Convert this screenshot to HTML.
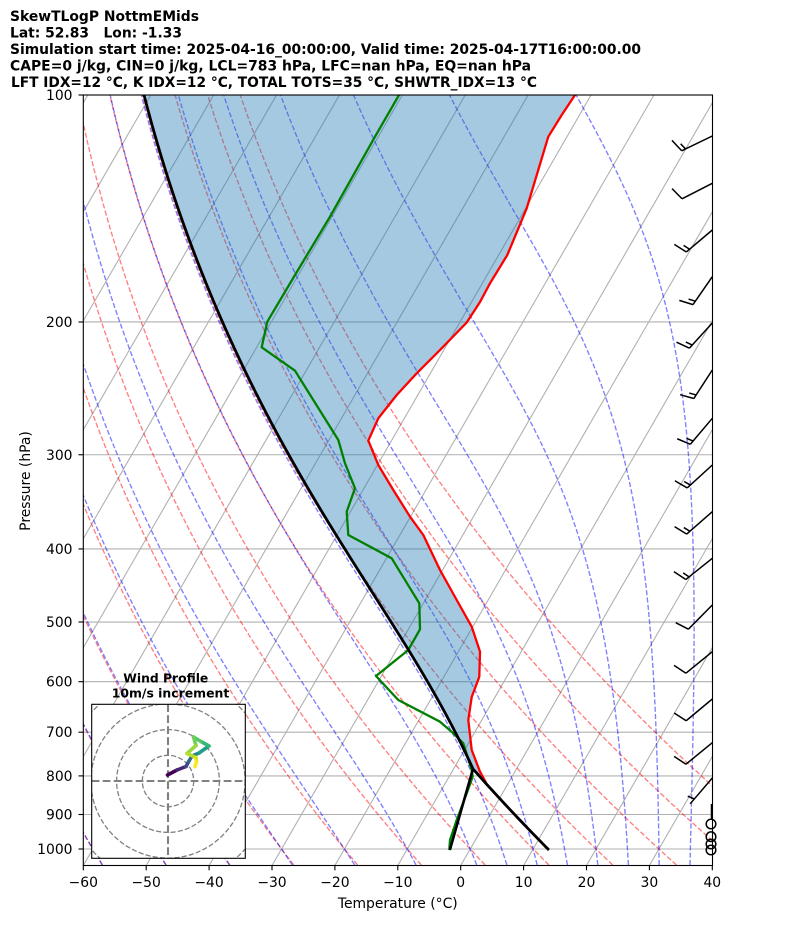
<!DOCTYPE html>
<html><head><meta charset="utf-8">
<style>
html,body{margin:0;padding:0;background:#fff;}
svg{display:block;}
text{font-family:"DejaVu Sans","Liberation Sans",sans-serif;fill:#000;}
.t{font-weight:bold;font-size:13.9px;white-space:pre;}
.tk{font-size:13.9px;}
</style></head>
<body>
<svg id="s" width="794" height="937" viewBox="0 0 794 937" xmlns="http://www.w3.org/2000/svg">
<defs>
<clipPath id="c"><rect x="83.3" y="95" width="629.2" height="770.5"/></clipPath>
<clipPath id="hc"><rect x="91.7" y="704.3" width="153.6" height="154"/></clipPath>
</defs>
<rect x="0" y="0" width="794" height="937" fill="#fff"/>
<g clip-path="url(#c)">
  <g id="grid"></g>
  <g id="dry"></g>
  <g id="moist"></g>
  <g id="fillg"></g>
  <g id="prof"></g>
</g>
<g id="barbs"></g>
<g fill="none" stroke="#000" stroke-width="1.5">
  <line x1="711.5" y1="804" x2="711.5" y2="820"/>
  <circle cx="711" cy="824" r="4.8"/>
  <circle cx="711" cy="836.7" r="4.8"/>
  <circle cx="711" cy="844" r="4.8"/>
  <circle cx="711" cy="850" r="4.8"/>
</g>

<!-- hodograph inset -->
<rect x="91.7" y="704.3" width="153.6" height="154" fill="#fff"/>
<g clip-path="url(#hc)">
  <g fill="none" stroke="#808080" stroke-width="1.3" stroke-dasharray="5.1 2.2">
    <circle cx="168" cy="781" r="25.7"/>
    <circle cx="168" cy="781" r="51.4"/>
    <circle cx="168" cy="781" r="77.1"/>
    <circle cx="168" cy="781" r="102.8"/>
  </g>
  <g stroke="#808080" stroke-width="2.1" stroke-dasharray="7.7 3.3">
    <line x1="91.7" y1="781" x2="245.3" y2="781"/>
    <line x1="168" y1="704.3" x2="168" y2="858.3"/>
  </g>
  <g fill="none" stroke-width="3.6" stroke-linecap="round" stroke-linejoin="round">
    <polyline points="167.5,775 177,770" stroke="#440154"/>
    <polyline points="177,770 186,766.5" stroke="#482475"/>
    <polyline points="186,766.5 189,761" stroke="#3e4a89"/>
    <polyline points="189,761 192,756" stroke="#31688e"/>
    <polyline points="192,756 199,753" stroke="#26828e"/>
    <polyline points="199,753 209,746" stroke="#1f9e89"/>
    <polyline points="209,746 201,741.5" stroke="#35b779"/>
    <polyline points="201,741.5 193.5,737" stroke="#54c568"/>
    <polyline points="193.5,737 196,745.5" stroke="#6ece58"/>
    <polyline points="196,745.5 187,753.5" stroke="#95d840"/>
    <polyline points="187,753.5 196,757.5" stroke="#b5de2b"/>
    <polyline points="196,757.5 196.5,762" stroke="#dde318"/>
    <polyline points="196.5,762 195,766.5" stroke="#fde725"/>
  </g>
</g>
<rect x="91.7" y="704.3" width="153.6" height="154" fill="none" stroke="#000" stroke-width="1.1"/>
<text x="123.3" y="682.7" font-weight="bold" font-size="12.5" textLength="85" lengthAdjust="spacingAndGlyphs">Wind Profile</text>
<text x="111.7" y="697.3" font-weight="bold" font-size="12.5" textLength="117.6" lengthAdjust="spacingAndGlyphs">10m/s increment</text>

<!-- axes frame -->
<rect x="83.3" y="95" width="629.2" height="770.5" fill="none" stroke="#000" stroke-width="1.1"/>

<!-- ticks -->
<g stroke="#000" stroke-width="1.1">
  <line x1="78.5" y1="95" x2="83.3" y2="95"/>
  <line x1="78.5" y1="322" x2="83.3" y2="322"/>
  <line x1="78.5" y1="454.75" x2="83.3" y2="454.75"/>
  <line x1="78.5" y1="548.95" x2="83.3" y2="548.95"/>
  <line x1="78.5" y1="622" x2="83.3" y2="622"/>
  <line x1="78.5" y1="681.7" x2="83.3" y2="681.7"/>
  <line x1="78.5" y1="732.2" x2="83.3" y2="732.2"/>
  <line x1="78.5" y1="775.9" x2="83.3" y2="775.9"/>
  <line x1="78.5" y1="814.5" x2="83.3" y2="814.5"/>
  <line x1="78.5" y1="849" x2="83.3" y2="849"/>
  <line x1="83.3" y1="865.5" x2="83.3" y2="870.3"/>
  <line x1="146.2" y1="865.5" x2="146.2" y2="870.3"/>
  <line x1="209.1" y1="865.5" x2="209.1" y2="870.3"/>
  <line x1="272.0" y1="865.5" x2="272.0" y2="870.3"/>
  <line x1="334.9" y1="865.5" x2="334.9" y2="870.3"/>
  <line x1="397.8" y1="865.5" x2="397.8" y2="870.3"/>
  <line x1="460.7" y1="865.5" x2="460.7" y2="870.3"/>
  <line x1="523.6" y1="865.5" x2="523.6" y2="870.3"/>
  <line x1="586.5" y1="865.5" x2="586.5" y2="870.3"/>
  <line x1="649.4" y1="865.5" x2="649.4" y2="870.3"/>
  <line x1="712.3" y1="865.5" x2="712.3" y2="870.3"/>
</g>
<g class="tk" text-anchor="end">
  <text x="72.5" y="100">100</text>
  <text x="72.5" y="327">200</text>
  <text x="72.5" y="459.8">300</text>
  <text x="72.5" y="554">400</text>
  <text x="72.5" y="627">500</text>
  <text x="72.5" y="686.7">600</text>
  <text x="72.5" y="737.2">700</text>
  <text x="72.5" y="780.9">800</text>
  <text x="72.5" y="819.5">900</text>
  <text x="72.5" y="854">1000</text>
</g>
<g class="tk" text-anchor="middle">
  <text x="83.3" y="887">−60</text>
  <text x="146.2" y="887">−50</text>
  <text x="209.1" y="887">−40</text>
  <text x="272.0" y="887">−30</text>
  <text x="334.9" y="887">−20</text>
  <text x="397.8" y="887">−10</text>
  <text x="460.7" y="887">0</text>
  <text x="523.6" y="887">10</text>
  <text x="586.5" y="887">20</text>
  <text x="649.4" y="887">30</text>
  <text x="712.3" y="887">40</text>
</g>
<text class="tk" x="397.8" y="908" text-anchor="middle">Temperature (°C)</text>
<text class="tk" x="0" y="0" text-anchor="middle" transform="translate(30,481) rotate(-90)">Pressure (hPa)</text>

<!-- title -->
<text class="t" x="10" y="21" textLength="189" lengthAdjust="spacingAndGlyphs">SkewTLogP NottmEMids</text>
<text class="t" x="10" y="37.5" textLength="172" lengthAdjust="spacingAndGlyphs" xml:space="preserve">Lat: 52.83   Lon: -1.33</text>
<text class="t" x="10" y="54" textLength="631" lengthAdjust="spacingAndGlyphs">Simulation start time: 2025-04-16_00:00:00, Valid time: 2025-04-17T16:00:00.00</text>
<text class="t" x="10" y="70.5" textLength="521" lengthAdjust="spacingAndGlyphs">CAPE=0 j/kg, CIN=0 j/kg, LCL=783 hPa, LFC=nan hPa, EQ=nan hPa</text>
<text class="t" x="11" y="87" textLength="526" lengthAdjust="spacingAndGlyphs">LFT IDX=12 °C, K IDX=12 °C, TOTAL TOTS=35 °C, SHWTR_IDX=13 °C</text>
</svg>

<script>
(function(){
const NS="http://www.w3.org/2000/svg";
function el(tag,attrs,parent){const e=document.createElementNS(NS,tag);for(const k in attrs)e.setAttribute(k,attrs[k]);parent.appendChild(e);return e;}
const Y=p=>95+754*(Math.log10(p)-2);
const SK=Math.tan(Math.PI/6);
const X=(T,y)=>83.3+(T+60)*6.29+(865.5-y)*SK;
const pts=a=>a.map(v=>v[0].toFixed(2)+","+v[1].toFixed(2)).join(" ");
const grid=document.getElementById("grid");
for(let T=-220;T<=40;T+=10){
  el("line",{x1:X(T,865.5),y1:865.5,x2:X(T,95),y2:95,stroke:"#b0b0b0","stroke-width":1.1},grid);
}
for(let p=100;p<=1000;p+=100){const y=Y(p);el("line",{x1:83,y1:y,x2:713,y2:y,stroke:"#b0b0b0","stroke-width":1.1},grid);}
const P=[];for(let i=0;i<=120;i++)P.push(1050-950*i/120);
const kap=0.28571;
const dry=document.getElementById("dry");
for(let t0=-60;t0<=50;t0+=10){
  const a=P.map(p=>{const y=Y(p);const T=(t0+273.15)*Math.pow(p/1000,kap)-273.15;return [X(T,y),y];});
  el("polyline",{points:pts(a),fill:"none",stroke:"#ff0000","stroke-opacity":0.5,"stroke-width":1.35,"stroke-dasharray":"5.1 2.2"},dry);
}
const Rd=287.04749,Cp=1004.6662,Lv=2.50084e6,eps=0.6219569;
function es(T){return 6.112*Math.exp(17.67*(T-273.15)/(T-29.65));}
function f(lnp,T){const p=Math.exp(lnp);const e=es(T);const rs=eps*e/Math.max(p-e,1e-3);return (Rd*T+Lv*rs)/(Cp+Lv*Lv*rs*eps/(Rd*T*T));}
function moist(T0,p0,p1,n){
  const out=[[p0,T0]];let T=T0,l=Math.log(p0);const h=(Math.log(p1)-l)/n;
  for(let i=0;i<n;i++){const k1=f(l,T),k2=f(l+h/2,T+h/2*k1),k3=f(l+h/2,T+h/2*k2),k4=f(l+h,T+h*k3);T+=h/6*(k1+2*k2+2*k3+k4);l+=h;out.push([Math.exp(l),T]);}
  return out;
}
const moistG=document.getElementById("moist");
const mt=[-60,-50,-40,-30,-20,-10,0,5,10,15,20,25,30,35,40];
for(const t0 of mt){
  const up=moist(t0+273.15,1000,100,240);
  const dn=moist(t0+273.15,1000,1050,10).reverse();
  const all=dn.concat(up.slice(1));
  const a=all.map(([p,T])=>{const y=Y(p);return [X(T-273.15,y),y];});
  el("polyline",{points:pts(a),fill:"none",stroke:"#0000ff","stroke-opacity":0.5,"stroke-width":1.35,"stroke-dasharray":"5.1 2.2"},moistG);
}
// parcel
const ps=1003,Ts=12.6+273.15,pl=783;
const par=[];
for(let i=0;i<=24;i++){const p=ps+(pl-ps)*i/24;par.push([p,Ts*Math.pow(p/ps,kap)]);}
const Tl=par[par.length-1][1];
const mm=moist(Tl,pl,95,300);
for(let i=1;i<mm.length;i++)par.push(mm[i]);
const parPix=par.map(([p,T])=>{const y=Y(p);return [X(T-273.15,y),y];});
const R=[[575,95],[561.7,115],[548.3,136.7],[526.7,208.3],[507.3,255],[490,283.3],[480,302],[466.7,322.5],[440,350],[416.7,373.3],[396.7,395],[378.3,418.3],[368.3,440.5],[378.3,465],[393.3,490],[410,516.7],[423.3,535],[440,570],[456.7,600],[471.7,626.7],[480,651.7],[479.3,676.7],[471.7,697],[468.3,720],[471.7,750],[480,771.7],[486,782.7]];
const G=[[399,95],[375,136.7],[330,216.7],[295,275],[267.3,321.7],[261.7,347.3],[295,370.7],[338.3,440],[345,463.3],[355,488.3],[346.7,511.7],[348.3,535],[391.7,558.3],[419.3,603.3],[420,629.3],[408.3,650],[376,676],[398.3,700],[440,721.7],[453.3,733.3],[463.3,743.3],[471.7,770],[472.7,776.7],[466.7,793.3],[456.7,820],[450,840],[449.3,850]];
const upPar=parPix.filter(v=>v[1]<782.7);
const fillPts=R.concat(upPar);
el("polygon",{points:pts(fillPts),fill:"#1f77b4","fill-opacity":0.4,stroke:"none"},document.getElementById("fillg"));
const prof=document.getElementById("prof");
const redFull=R.concat(parPix.filter(v=>v[1]>783).reverse());
el("polyline",{points:pts(redFull),fill:"none",stroke:"#ff0000","stroke-width":2.3,"stroke-linejoin":"round"},prof);
el("polyline",{points:pts(G),fill:"none",stroke:"#008000","stroke-width":2.3,"stroke-linejoin":"round"},prof);
el("polyline",{points:pts(parPix),fill:"none",stroke:"#000","stroke-width":2.8,"stroke-linejoin":"round"},prof);
const lcl=parPix[24];
el("line",{x1:X(-3.15,850),y1:850,x2:lcl[0],y2:lcl[1],stroke:"#000","stroke-width":2.6},prof);
// barbs
const gb=document.getElementById("barbs");
function barb(y0,tx,ty,nfull,half){
  const lx=712.3,ly=y0;let ux=tx-lx,uy=ty-ly;const m=Math.hypot(ux,uy);ux/=m;uy/=m;
  const L=34;const px=-uy,py=ux;
  const ex=lx+L*ux,ey=ly+L*uy;
  let d="M"+lx+","+ly+"L"+ex.toFixed(2)+","+ey.toFixed(2);
  let off=L;
  for(let i=0;i<nfull;i++){const bx=lx+off*ux,by=ly+off*uy;d+="M"+bx.toFixed(2)+","+by.toFixed(2)+"L"+(bx+0.4*L*px+0.125*L*ux).toFixed(2)+","+(by+0.4*L*py+0.125*L*uy).toFixed(2);off-=0.125*L;}
  if(half){if(off===L)off-=1.5*0.125*L;const bx=lx+off*ux,by=ly+off*uy;d+="M"+bx.toFixed(2)+","+by.toFixed(2)+"L"+(bx+0.2*L*px+0.0625*L*ux).toFixed(2)+","+(by+0.2*L*py+0.0625*L*uy).toFixed(2);}
  el("path",{d:d,stroke:"#000","stroke-width":1.5,fill:"none","stroke-linejoin":"miter"},gb);
}
barb(136,683.3,150,1,true);
barb(183.3,681,199.3,1,false);
barb(230,686.7,251.7,1,true);
barb(276.7,692.7,305,1,true);
barb(323,689.3,348.3,1,true);
barb(370,693.3,399.3,1,true);
barb(418.3,691.7,442.7,1,true);
barb(465,689.3,486,1,true);
barb(511.7,688.3,532.7,1,true);
barb(558.3,687.3,578.3,1,true);
barb(605,689.3,628.3,1,false);
barb(651.7,685,674,1,false);
barb(699,685,721.7,1,false);
barb(742.7,685,765,1,false);
barb(778,690,804,0,true);
})();
</script>
</body></html>
